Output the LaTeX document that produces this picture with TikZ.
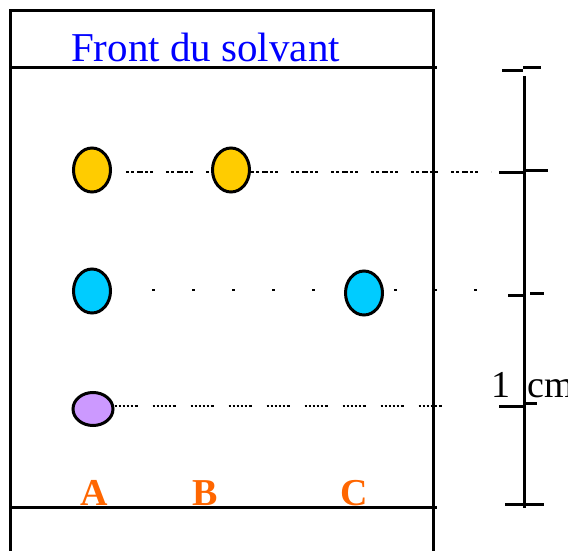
\documentclass[tikz,border=0pt]{standalone}
\usepackage{fontspec}
\setmainfont{Liberation Serif}
\usetikzlibrary{shapes.geometric}
\definecolor{spotyellow}{HTML}{FFCC00}
\definecolor{spotcyan}{HTML}{00CCFF}
\definecolor{spotpurple}{HTML}{CC99FF}
\definecolor{labelorange}{HTML}{FF6600}
\definecolor{frontblue}{HTML}{0000FF}
\tikzset{
  plate/.style={line width=3pt},
  spot/.style={ellipse, draw=black, line width=3pt, inner sep=0pt, minimum width=37pt, minimum height=44pt},
  yellowdots/.style={line width=2.5pt, dash pattern=on 3pt off 2pt on 3pt off 3pt on 6pt off 2pt on 3pt off 2pt on 3pt off 13pt},
  cyandots/.style={line width=2.5pt, dash pattern=on 3pt off 37pt},
  purpledots/.style={line width=2pt, dash pattern=on 2pt off 2pt on 2pt off 2pt on 2pt off 2pt on 2pt off 2pt on 2pt off 2pt on 3pt off 15pt},
  lanelabel/.style={anchor=base, text=labelorange, font=\fontsize{38}{38}\selectfont\bfseries, inner sep=0pt},
  scalebar/.style={line width=3pt}
}
\begin{document}
\begin{tikzpicture}[x=1pt, y=-1pt]
\useasboundingbox (0,0) rectangle (568,551);
% plate
\draw[plate] (10,551) -- (10,11) -- (433,11) -- (433,551);
\draw[plate] (10,68) -- (437,68);
\draw[plate] (10,507) -- (437,507);
\node[anchor=base west, inner sep=0pt, text=frontblue, font=\fontsize{41}{41}\selectfont] (front) at (71,62) {Front du solvant};
% spots
\node[spot, fill=spotyellow] (yA) at (92,170) {};
\node[spot, fill=spotyellow] (yB) at (231,170) {};
\node[spot, fill=spotcyan] (cA) at (92,291) {};
\node[spot, fill=spotcyan] (cC) at (364,293) {};
\node[spot, fill=spotpurple, minimum width=40pt, minimum height=33pt] (pA) at (93,409) {};
% free ends of the dotted lines
\coordinate (yEnd) at (491,172);
\coordinate (cEnd) at (480,290);
\coordinate (pEnd) at (456,406);
% dotted lines
\draw[yellowdots, shorten <=14pt] (yA.east |- 0,172) -- (yB.west |- 0,172);
\draw[yellowdots] (yB.east |- 0,172) -- (yEnd);
\draw[cyandots, shorten <=40pt] (cA.east |- 0,290) -- (cC.west |- 0,290);
\draw[cyandots, shorten <=10pt] (cC.east |- 0,290) -- (cEnd);
\draw[purpledots] (pA.east |- 0,406) -- (pEnd);
% lane labels
\node[lanelabel] (lA) at (94,505) {A};
\node[lanelabel] (lB) at (205,505) {B};
\node[lanelabel] (lC) at (354,505) {C};
% scale bar
\draw[scalebar] (524.5,76) -- (524.5,508);
\draw[scalebar] (502,71) -- (523,71);
\draw[scalebar] (523,68) -- (541,68);
\draw[scalebar] (499,172) -- (524,172);
\draw[scalebar] (524,170) -- (548,170);
\draw[scalebar] (508,295) -- (524,295);
\draw[scalebar] (530,293) -- (544,293);
\draw[scalebar] (499,406) -- (524,406);
\draw[scalebar] (524,403) -- (537,403);
\draw[scalebar] (505,504) -- (544,504);
\node[anchor=base west, inner sep=0pt, font=\fontsize{38}{38}\selectfont] (cm) at (491,397) {1\hspace{0.45em}cm};
\end{tikzpicture}
\end{document}
